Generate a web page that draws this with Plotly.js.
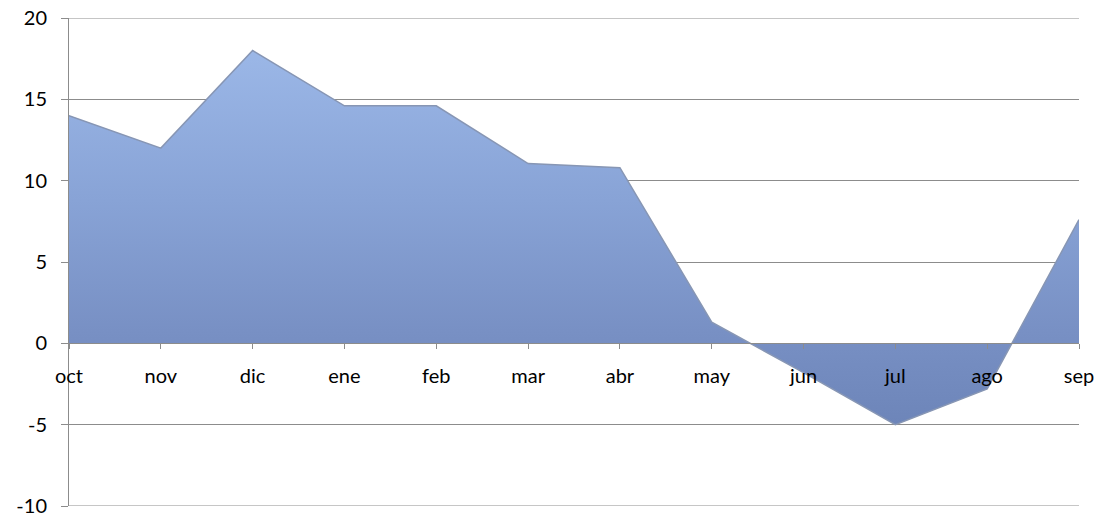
<!DOCTYPE html>
<html>
<head>
<meta charset="utf-8">
<script src="https://cdn.plot.ly/plotly-3.0.1.min.js"></script>
<style>html,body{margin:0;padding:0;background:#fff;}#chart{width:1103px;height:517px;}</style>
</head>
<body>
<div id="chart"></div>
<script>
var months = ['oct','nov','dic','ene','feb','mar','abr','may','jun','jul','ago','sep'];
var values = [14.0, 12.0, 18.0, 14.6, 14.6, 11.05, 10.8, 1.3, -1.8, -5.0, -2.8, 7.6];
var yTicks = [-10, -5, 0, 5, 10, 15, 20];
var yTickText = ['-10', '-5', '0', '5', '10', '15', '20'];

var trace = {
  x: months,
  y: values,
  type: 'scatter',
  mode: 'lines',
  fill: 'tozeroy',
  line: {color: '#8796b4', width: 1.5},
  fillcolor: '#8ba6d8',
  fillgradient: {
    type: 'vertical',
    colorscale: [[0, '#6d85b9'], [0.25, '#7890c4'], [0.6, '#88a3d6'], [1, '#9bb7e7']]
  },
  hoverinfo: 'x+y'
};

var gridShapes = [yTicks[0], yTicks[yTicks.length - 1]].map(function (v) {
  return {type: 'line', xref: 'paper', yref: 'y', x0: 0, x1: 1, y0: v, y1: v,
          line: {color: '#8c8c8c', width: 1}, layer: 'below'};
});

var layout = {
  width: 1103,
  height: 517,
  margin: {l: 69, r: 24, t: 18, b: 11},
  paper_bgcolor: '#ffffff',
  plot_bgcolor: '#ffffff',
  showlegend: false,
  font: {family: 'Lato, "Open Sans", sans-serif', size: 20, color: '#000'},
  shapes: gridShapes,
  xaxis: {
    type: 'category',
    range: [0, months.length - 1],
    anchor: 'free',
    position: 1/3,
    showgrid: false,
    showline: true,
    linecolor: '#8c8c8c',
    linewidth: 1,
    ticks: 'outside',
    ticklen: 5,
    tickcolor: '#8c8c8c',
    tickfont: {size: 20, color: '#000'},
    ticklabelstandoff: 10,
    zeroline: false,
    fixedrange: true
  },
  yaxis: {
    range: [-10, 20],
    tickvals: yTicks,
    ticktext: yTickText,
    showgrid: true,
    gridcolor: '#8c8c8c',
    gridwidth: 1,
    showline: true,
    linecolor: '#8c8c8c',
    linewidth: 1,
    ticks: 'outside',
    ticklen: 7,
    tickcolor: '#8c8c8c',
    tickfont: {size: 20, color: '#000'},
    ticklabelstandoff: 10,
    zeroline: false,
    fixedrange: true
  }
};

Plotly.newPlot('chart', [trace], layout, {displayModeBar: false, staticPlot: true});
</script>
</body>
</html>
